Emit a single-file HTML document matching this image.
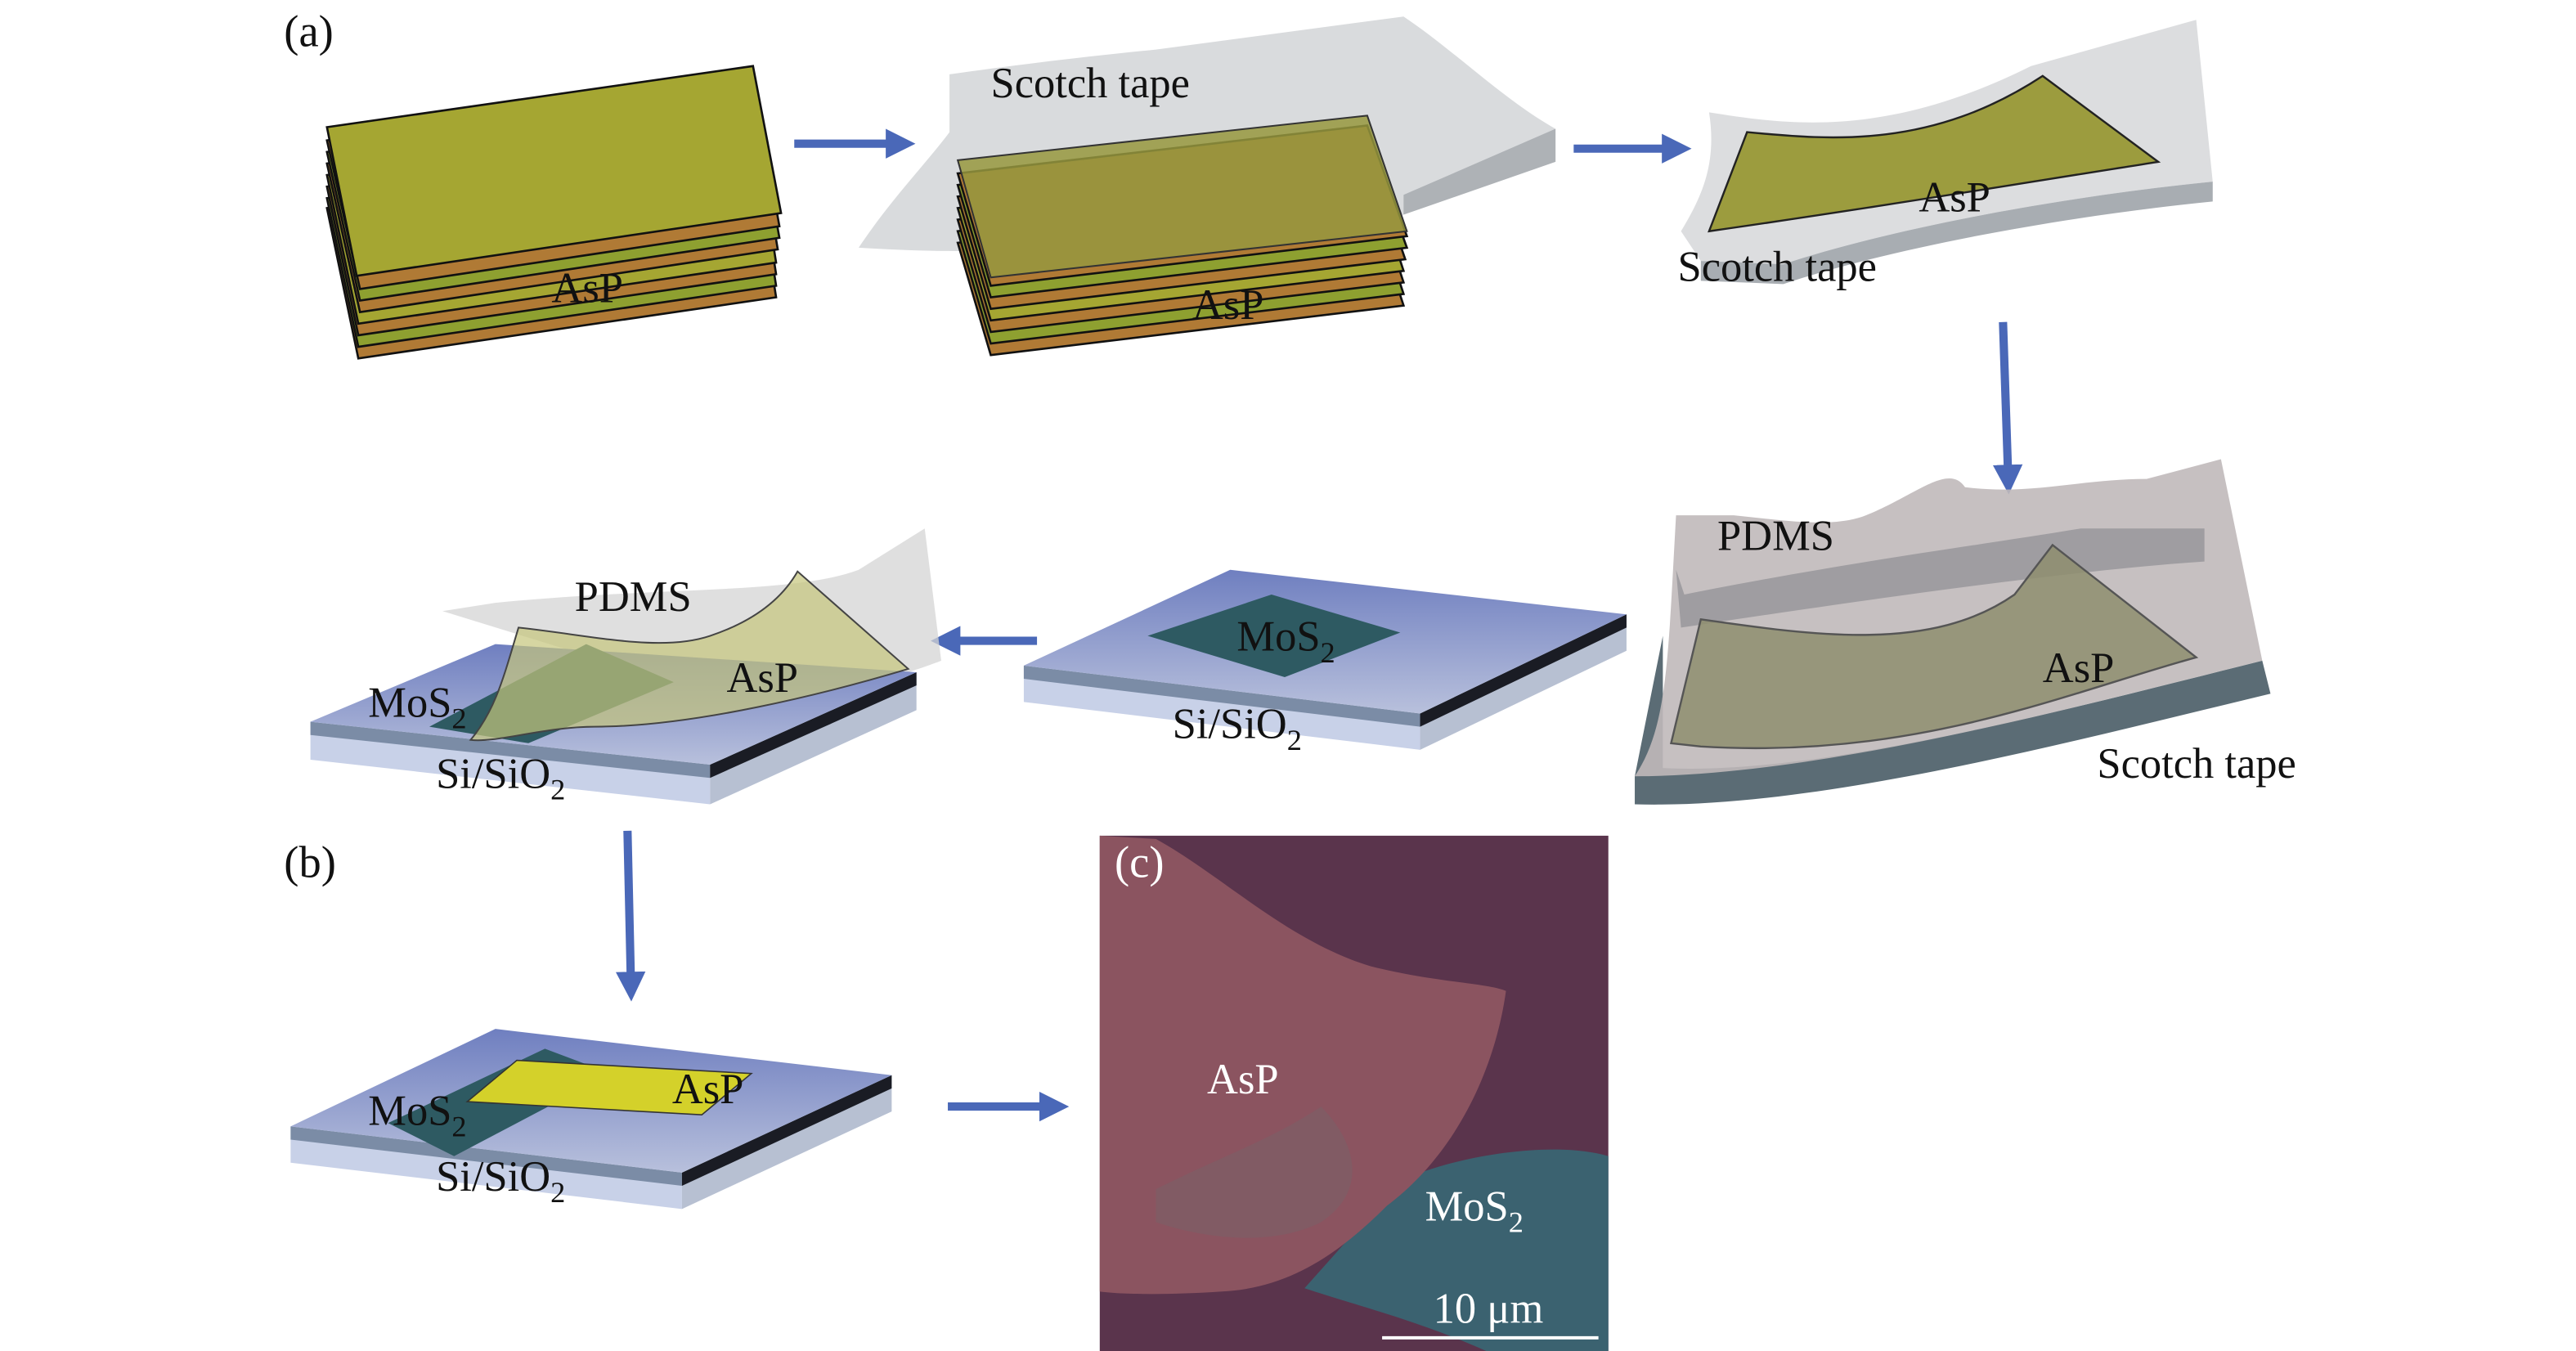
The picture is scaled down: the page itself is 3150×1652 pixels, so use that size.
<!DOCTYPE html>
<html><head><meta charset="utf-8"><style>
html,body{margin:0;padding:0;background:#fff;}
svg{display:block;}
text{font-family:"Liberation Serif",serif;fill:#111;}
</style></head><body>
<svg width="3150" height="1652" viewBox="0 0 1560 818" preserveAspectRatio="none" xmlns="http://www.w3.org/2000/svg">
<defs>
<linearGradient id="top" x1="0" y1="0" x2="0" y2="1"><stop offset="0" stop-color="#6f7fc0"/><stop offset="1" stop-color="#b8c0dc"/></linearGradient>
<marker id="ah" viewBox="0 0 10 10" refX="2" refY="5" markerWidth="3.6" markerHeight="3.6" orient="auto"><path d="M0,0L10,5L0,10z" fill="#4a68b8"/></marker>
</defs>

<text x="172" y="28" font-size="27">(a)</text>

<!-- stack 1 -->
<g stroke="#111" stroke-width="1.3">
<polygon points="198,126 456,90 470,180 217,217" fill="#b07a35"/>
<polygon points="198,120 456,84 470,173 217,210" fill="#8ea030"/>
<polygon points="198,113 456,77 470,166 217,203" fill="#b07a35"/>
<polygon points="198,106 456,70 470,159 217,196" fill="#a5a632"/>
<polygon points="198,99 456,62 471,151 218,189" fill="#b07a35"/>
<polygon points="198,92 456,55 472,144 218,182" fill="#8ea030"/>
<polygon points="198,85 456,48 472,137 218,175" fill="#b07a35"/>
<polygon points="198,77 456,40 473,129 216,167" fill="#a5a632"/>
</g>
<text x="334" y="183" font-size="26">AsP</text>
<line x1="481" y1="87" x2="540" y2="87" stroke="#4a68b8" stroke-width="5" marker-end="url(#ah)"/>

<!-- stack 2 -->
<path d="M575,45 C610,40 650,35 700,30 L850,10 C880,30 910,60 942,78 L942,98 C900,110 870,118 850,130 L700,145 C650,150 600,155 520,150 C540,120 560,100 575,80 Z" fill="#d9dbdd"/>
<path d="M942,78 L942,98 L850,130 L850,118 Z" fill="#aeb2b6"/>
<g stroke="#111" stroke-width="1.3">
<polygon points="580,147 828,118 850,185 600,215" fill="#b07a35"/>
<polygon points="580,140 828,111 850,178 600,208" fill="#8ea030"/>
<polygon points="580,133 828,104 850,171 600,201" fill="#b07a35"/>
<polygon points="580,126 828,97 850,164 600,194" fill="#a5a632"/>
<polygon points="580,119 828,90 851,157 600,187" fill="#b07a35"/>
<polygon points="580,112 828,83 852,150 600,180" fill="#8ea030"/>
<polygon points="580,105 828,76 852,143 600,173" fill="#b07a35"/>
</g>
<polygon points="580,97 828,70 852,140 600,168" fill="#96983e" fill-opacity="0.85" stroke="#333" stroke-width="1"/>
<text x="600" y="59" font-size="26">Scotch tape</text>
<text x="722" y="193" font-size="26">AsP</text>
<line x1="953" y1="90" x2="1010" y2="90" stroke="#4a68b8" stroke-width="5" marker-end="url(#ah)"/>

<!-- stack 3 -->
<path d="M1035,68 C1080,75 1140,85 1230,40 L1330,12 L1340,110 C1240,120 1140,140 1080,160 L1030,158 L1018,140 C1030,120 1040,100 1035,68 Z" fill="#dcdddf"/>
<path d="M1030,158 L1080,160 C1140,140 1240,120 1340,110 L1340,122 C1240,132 1140,152 1080,172 L1030,170 Z" fill="#a8adb2"/>
<path d="M1058,80 C1110,85 1170,90 1237,46 L1307,98 C1230,110 1140,125 1035,140 Z" fill="#9c9c3e" stroke="#222" stroke-width="1.2"/>
<text x="1162" y="128" font-size="26">AsP</text>
<text x="1016" y="170" font-size="26">Scotch tape</text>
<line x1="1213" y1="195" x2="1216" y2="285" stroke="#4a68b8" stroke-width="5" marker-end="url(#ah)"/>

<!-- PDMS/tape right -->
<path d="M1007,385 L1007,465 C1100,470 1250,430 1370,400 L1375,420 C1250,450 1100,490 990,487 L990,470 Z" fill="#5b6c75"/>
<path d="M1015,312 L1050,312 C1080,315 1110,320 1130,312 C1160,300 1180,280 1190,295 C1230,300 1260,290 1300,290 L1345,278 L1370,400 C1250,430 1100,470 990,470 C1010,440 1010,400 1015,312 Z" fill="#c0b9ba" fill-opacity="0.9"/>
<path d="M1015,345 L1020,360 C1120,340 1200,330 1260,320 L1335,320 L1335,340 C1260,345 1150,360 1018,380 Z" fill="#8f8f93" fill-opacity="0.7"/>
<path d="M1030,375 C1100,385 1170,395 1220,360 L1243,330 L1330,398 C1250,420 1160,460 1030,452 L1012,450 Z" fill="#8e8e6e" fill-opacity="0.85" stroke="#555" stroke-width="1.2"/>
<text x="1040" y="333" font-size="26">PDMS</text>
<text x="1237" y="413" font-size="26">AsP</text>
<text x="1270" y="471" font-size="26">Scotch tape</text>

<line x1="628" y1="388" x2="578" y2="388" stroke="#4a68b8" stroke-width="5" marker-end="url(#ah)"/>

<!-- middle substrate -->
<polygon points="620,403 860,432 860,454 620,425" fill="#c8d1e8"/>
<polygon points="620,403 860,432 860,440 620,411" fill="#7b8ca6"/>
<polygon points="860,432 985,372 985,394 860,454" fill="#b7c0d2"/>
<polygon points="860,432 985,372 985,380 860,440" fill="#1a1c24"/>
<polygon points="620,403 745,345 985,372 860,432" fill="url(#top)"/>
<polygon points="695,385 770,360 848,383 778,410" fill="#2e5a62"/>
<text x="749" y="394" font-size="26">MoS<tspan font-size="18" dy="7">2</tspan></text>
<text x="710" y="447" font-size="26">Si/SiO<tspan font-size="18" dy="7">2</tspan></text>

<!-- left substrate -->
<path d="M268,370 L300,365 C400,355 480,360 520,345 L560,320 L570,400 C520,420 470,420 430,420 Z" fill="#d4d4d4" fill-opacity="0.75"/>
<polygon points="188,437 430,463 430,487 188,460" fill="#c8d1e8"/>
<polygon points="188,437 430,463 430,471 188,445" fill="#7b8ca6"/>
<polygon points="430,463 555,407 555,430 430,487" fill="#b7c0d2"/>
<polygon points="430,463 555,407 555,415 430,471" fill="#1a1c24"/>
<polygon points="188,437 300,390 555,407 430,463" fill="url(#top)"/>
<polygon points="260,440 355,390 408,413 320,450" fill="#2e5a62"/>
<path d="M314,380 C360,385 400,395 430,385 C460,375 475,360 483,346 L550,405 C500,420 420,440 360,440 C330,440 300,450 285,448 C300,430 305,410 314,380 Z" fill="#c4c47a" fill-opacity="0.7" stroke="#444" stroke-width="1"/>
<text x="348" y="370" font-size="26">PDMS</text>
<text x="440" y="419" font-size="26">AsP</text>
<text x="223" y="434" font-size="26">MoS<tspan font-size="18" dy="7">2</tspan></text>
<text x="264" y="477" font-size="26">Si/SiO<tspan font-size="18" dy="7">2</tspan></text>

<text x="172" y="531" font-size="27">(b)</text>
<line x1="380" y1="503" x2="382" y2="592" stroke="#4a68b8" stroke-width="5" marker-end="url(#ah)"/>

<!-- bottom substrate -->
<polygon points="176,682 413,710 413,732 176,704" fill="#c8d1e8"/>
<polygon points="176,682 413,710 413,718 176,690" fill="#7b8ca6"/>
<polygon points="413,710 540,651 540,673 413,732" fill="#b7c0d2"/>
<polygon points="413,710 540,651 540,659 413,718" fill="#1a1c24"/>
<polygon points="176,682 300,623 540,651 413,710" fill="url(#top)"/>
<polygon points="235,680 330,635 370,650 275,700" fill="#2e5a62"/>
<polygon points="283,667 313,642 455,650 425,675" fill="#d4d12a" stroke="#333" stroke-width="0.8"/>
<text x="223" y="681" font-size="26">MoS<tspan font-size="18" dy="7">2</tspan></text>
<text x="407" y="668" font-size="26">AsP</text>
<text x="264" y="721" font-size="26">Si/SiO<tspan font-size="18" dy="7">2</tspan></text>
<line x1="574" y1="670" x2="633" y2="670" stroke="#4a68b8" stroke-width="5" marker-end="url(#ah)"/>

<!-- panel c -->
<rect x="666" y="506" width="308" height="312" fill="#5a344c"/>
<path d="M848,715 C880,700 940,690 974,700 L974,818 L900,818 C860,800 820,790 790,780 Z" fill="#3b6270"/>
<path d="M666,506 L700,508 C740,530 780,570 830,585 C870,595 900,595 912,600 C905,650 880,700 840,730 C810,760 780,780 740,782 C710,784 680,784 666,782 Z" fill="#8b5460"/>
<path d="M700,720 C740,700 770,690 800,670 C820,690 830,720 800,740 C770,755 730,750 700,740 Z" fill="#7d5e66" fill-opacity="0.7"/>
<text x="675" y="531" font-size="27" style="fill:#fff">(c)</text>
<text x="731" y="662" font-size="26" style="fill:#fff">AsP</text>
<text x="863" y="739" font-size="26" style="fill:#fff">MoS<tspan font-size="18" dy="7">2</tspan></text>
<text x="868" y="801" font-size="26" style="fill:#fff">10 μm</text>
<line x1="837" y1="810" x2="968" y2="810" stroke="#fff" stroke-width="2"/>
</svg>
</body></html>
